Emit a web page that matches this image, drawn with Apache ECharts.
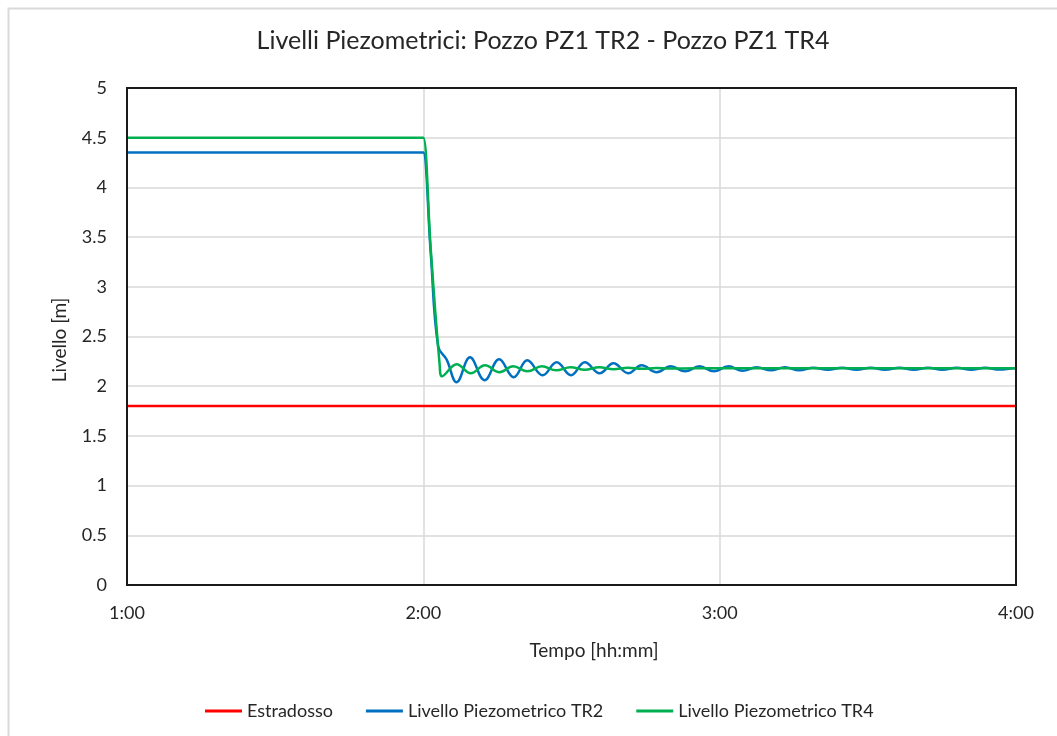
<!DOCTYPE html>
<html>
<head>
<meta charset="utf-8">
<script src="https://cdn.jsdelivr.net/npm/echarts@6/dist/echarts.min.js"></script>
<style>
  html, body { margin: 0; padding: 0; background: #fff; }
  #chart { width: 1057px; height: 736px; }
</style>
</head>
<body>
<div id="chart"></div>
<script>
// Time is expressed in minutes after midnight (60 = 1:00, 240 = 4:00)
const xTickLabels = { 60: '1:00', 120: '2:00', 180: '3:00', 240: '4:00' };

// Estradosso (constant level)
const estradossoTime = [60, 240];
const estradossoLevel = [1.80, 1.80];

// Livello Piezometrico TR2
const tr2Time = [60, 119.7, 120.0, 121.5, 123.0, 124.7, 126.75, 129.45, 132.4, 135.35, 138.3, 141.05,
  144.15, 147.0, 149.9, 152.7, 155.7, 158.5, 161.5, 164.2, 167.25, 170.1, 173.0, 175.9, 178.85,
  181.75, 184.65, 187.5, 190.35, 193.2, 196.1, 199.0, 201.9, 204.8, 207.7, 210.6, 213.5, 216.4,
  219.3, 222.2, 225.1, 228.0, 230.9, 233.8, 236.7, 239.6, 240];
const tr2Level = [4.35, 4.35, 4.35, 3.34, 2.40, 2.27, 2.04, 2.29, 2.06, 2.27, 2.09, 2.26,
  2.11, 2.24, 2.11, 2.24, 2.13, 2.23, 2.13, 2.21, 2.14, 2.20, 2.15, 2.20, 2.15,
  2.20, 2.155, 2.19, 2.16, 2.19, 2.16, 2.185, 2.165, 2.185, 2.165, 2.185, 2.165, 2.185,
  2.165, 2.185, 2.165, 2.185, 2.165, 2.185, 2.168, 2.18, 2.18];

// Livello Piezometrico TR4
const tr4Time = [60, 119.7, 120.0, 121.5, 123.3, 123.8, 126.75, 129.6, 132.5, 135.4, 138.2, 141.1,
  144.0, 146.9, 149.8, 152.7, 155.6, 158.5, 161.4, 164.3, 167.2, 170.1, 175.0, 200.0, 240];
const tr4Level = [4.50, 4.50, 4.50, 3.38, 2.22, 2.10, 2.22, 2.13, 2.21, 2.14, 2.20, 2.15,
  2.20, 2.16, 2.19, 2.165, 2.19, 2.17, 2.185, 2.175, 2.183, 2.178, 2.18, 2.18, 2.18];

const pairs = (xs, ys) => xs.map((x, i) => [x, ys[i]]);

const FONT = 'Lato, "Open Sans", sans-serif';
const TXT = '#262626';

const chart = echarts.init(document.getElementById('chart'), null, { renderer: 'canvas' });
chart.setOption({
  backgroundColor: '#ffffff',
  animation: false,
  textStyle: { fontFamily: FONT },
  grid: { left: 127, top: 88, width: 889, height: 497 },
  legend: {
    left: 205, top: 702, padding: 0,
    itemWidth: 37, itemHeight: 3, itemGap: 33,
    icon: 'rect',
    textStyle: { fontFamily: FONT, fontSize: 18, color: TXT },
    data: ['Estradosso', 'Livello Piezometrico TR2', 'Livello Piezometrico TR4']
  },
  xAxis: {
    type: 'value', min: 60, max: 240, interval: 60,
    axisLine: { show: false },
    axisTick: { show: false },
    splitLine: { show: true, lineStyle: { color: '#d9d9d9', width: 1.5 } },
    axisLabel: {
      margin: 19, fontSize: 18, color: TXT, fontFamily: FONT,
      formatter: v => xTickLabels[v] || ''
    }
  },
  yAxis: {
    type: 'value', min: 0, max: 5, interval: 0.5,
    axisLine: { show: false },
    axisTick: { show: false },
    splitLine: { show: true, lineStyle: { color: '#d9d9d9', width: 1.5 } },
    axisLabel: { margin: 20, fontSize: 18, color: TXT, fontFamily: FONT }
  },
  graphic: [
    // outer chart frame
    { type: 'rect', left: 6, top: 6, silent: true, z: 0,
      shape: { width: 1100, height: 800 },
      style: { fill: 'none', stroke: '#d9d9d9', lineWidth: 2 } },
    // plot area frame
    { type: 'rect', x: 127, y: 88, silent: true, z: 100,
      shape: { x: 0, y: 0, width: 889, height: 497 },
      style: { fill: 'none', stroke: '#1a1a1a', lineWidth: 2 } },
    { type: 'text', x: 543, y: 41, silent: true,
      style: { text: 'Livelli Piezometrici: Pozzo PZ1 TR2 - Pozzo PZ1 TR4', fill: TXT,
        font: '25px ' + FONT, align: 'center', verticalAlign: 'middle' } },
    { type: 'text', x: 594, y: 651, silent: true,
      style: { text: 'Tempo [hh:mm]', fill: TXT,
        font: '19px ' + FONT, align: 'center', verticalAlign: 'middle' } },
    { type: 'text', x: 60, y: 340, rotation: Math.PI / 2, silent: true,
      style: { text: 'Livello [m]', fill: TXT,
        font: '19px ' + FONT, align: 'center', verticalAlign: 'middle' } }
  ],
  series: [
    {
      name: 'Estradosso', type: 'line', data: pairs(estradossoTime, estradossoLevel),
      showSymbol: false, symbol: 'none', color: '#ff0000',
      lineStyle: { width: 2.5, color: '#ff0000' }
    },
    {
      name: 'Livello Piezometrico TR2', type: 'line', data: pairs(tr2Time, tr2Level),
      showSymbol: false, symbol: 'none', smooth: 0.4, color: '#0070c0',
      lineStyle: { width: 2.5, color: '#0070c0' }
    },
    {
      name: 'Livello Piezometrico TR4', type: 'line', data: pairs(tr4Time, tr4Level),
      showSymbol: false, symbol: 'none', smooth: 0.4, color: '#00b050',
      lineStyle: { width: 2.5, color: '#00b050' }
    }
  ]
});
</script>
</body>
</html>
